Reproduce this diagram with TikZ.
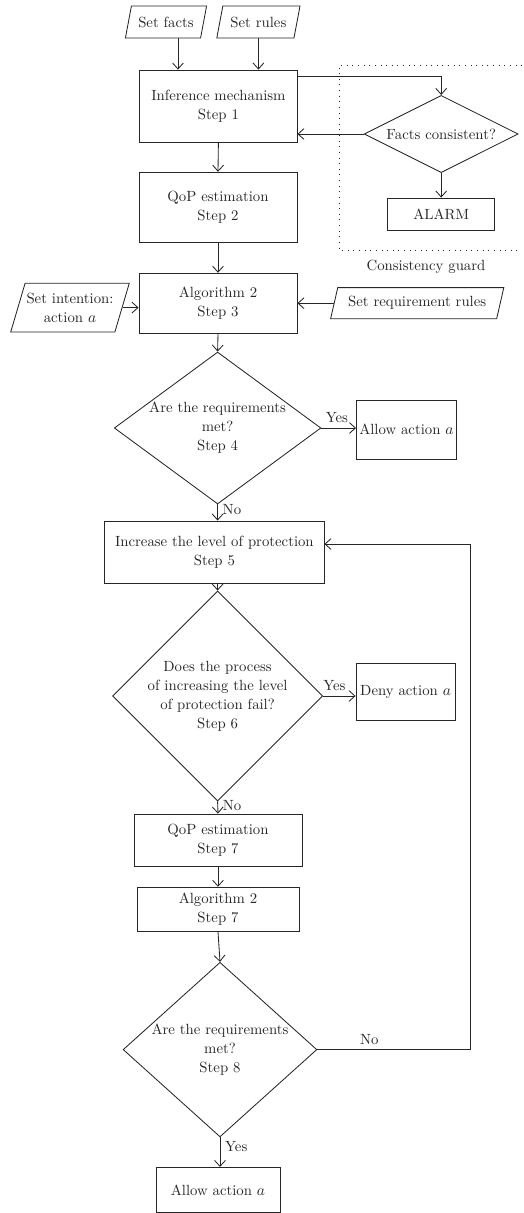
\documentclass[tikz,border=0pt]{standalone}
\usepackage{tikz}
\usetikzlibrary{shapes,arrows.meta,positioning,calc}

\begin{document}
\begin{tikzpicture}[
    color=black!85, line width=0.6pt,
    font=\fontsize{10.5}{13.5}\selectfont,
    process/.style={rectangle, draw, align=center, inner sep=2pt},
    decision/.style={diamond, draw, align=center, inner sep=0pt},
    inputbox/.style={trapezium, trapezium left angle=66, trapezium right angle=114, trapezium stretches body, draw, align=center, inner sep=1pt},
    arrow/.style={-{Straight Barb[length=1.5mm,width=2.7mm]}},
    guard/.style={dash pattern=on 0.6pt off 3.4pt, line width=0.7pt}
]
    \useasboundingbox (0,0) rectangle (13.1,-30.325);

    % Inputs
    \node[inputbox, minimum width=2.03cm, minimum height=0.8cm] (facts) at (4.15,-0.55) {Set facts};
    \node[inputbox, minimum width=2.08cm, minimum height=0.8cm] (rules) at (6.46,-0.55) {Set rules};

    % Steps 1-3
    \node[process, minimum width=3.93cm, minimum height=1.8cm] (infer) at (5.46,-2.65) {Inference mechanism\\Step 1};
    \node[process, minimum width=3.95cm, minimum height=1.75cm] (qop2) at (5.45,-5.18) {QoP estimation\\Step 2};
    \node[process, minimum width=3.95cm, minimum height=1.5cm] (alg3) at (5.45,-7.58) {Algorithm 2\\Step 3};
    \node[inputbox, minimum width=2.9cm, minimum height=1.22cm] (intent) at (1.75,-7.69) {Set intention:\\action $a$};
    \node[inputbox, minimum width=4.33cm, minimum height=0.78cm] (reqrules) at (10.43,-7.58) {Set requirement rules};

    % Consistency guard
    \node[decision, shape aspect=2, minimum width=3.85cm, minimum height=1.93cm] (fc) at (11.03,-3.35) {Facts consistent?};
    \node[process, minimum width=2.68cm, minimum height=0.8cm] (alarm) at (11.03,-5.35) {ALARM};
    \draw[guard] (13.05,-1.625) -- (8.475,-1.625) -- (8.475,-6.25) -- (13.05,-6.25);
    \node (guardlabel) at (10.65,-6.68) {Consistency guard};

    % Step 4
    \node[decision, shape aspect=1.36, minimum width=4.95cm, minimum height=3.65cm] (d4) at (5.44,-10.7) {Are the requirements\\met?\\Step 4};
    \node[process, minimum width=2.48cm, minimum height=1.48cm] (allow1) at (10.16,-10.74) {Allow action $a$};

    % Steps 5-6
    \node[process, minimum width=5.48cm, minimum height=1.55cm] (box5) at (5.36,-13.8) {Increase the level of protection\\Step 5};
    \node[decision, shape aspect=1, minimum width=4.88cm, minimum height=4.8cm] (d6) at (5.44,-17.4) {Does the process\\of increasing the level\\of protection fail?\\Step 6};
    \node[process, minimum width=2.48cm, minimum height=1.43cm] (deny) at (10.14,-17.29) {Deny action $a$};

    % Steps 7-8
    \node[process, minimum width=4.2cm, minimum height=1.3cm] (qop7) at (5.45,-21.0) {QoP estimation\\Step 7};
    \node[process, minimum width=4.05cm, minimum height=1.1cm] (alg7) at (5.45,-22.73) {Algorithm 2\\Step 7};
    \node[decision, shape aspect=1.11, minimum width=4.65cm, minimum height=4.18cm] (d8) at (5.5,-26.24) {Are the requirements\\met?\\Step 8};
    \node[process, minimum width=3.1cm, minimum height=1.13cm] (allow2) at (5.45,-29.75) {Allow action $a$};
    \coordinate (back) at (11.75,-13.6);

    % Arrows
    \draw[arrow] ([xshift=0.3cm]facts.south) -- ([xshift=0.3cm]facts.south |- infer.north);
    \draw[arrow] (rules.south) -- (rules.south |- infer.north);
    \draw[arrow] ([yshift=-0.18cm]infer.north east) -| (fc.north);
    \draw[arrow] (fc.west) -- (fc.west -| infer.east);
    \draw[arrow] (fc.south) -- (alarm.north);
    \draw[arrow] (infer.south) -- (qop2.north);
    \draw[arrow] (qop2.south) -- (alg3.north);
    \draw[arrow] (intent.east) -- (intent.east -| alg3.west);
    \draw[arrow] (reqrules.west) -- (reqrules.west -| alg3.east);
    \draw[arrow] (alg3.south) -- (d4.north);
    \draw[arrow] (d4.east) -- node[above, pos=0.45] {Yes} (d4.east -| allow1.west);
    \draw[arrow] (d4.south) -- node[right, pos=0.3] {No} (d4.south |- box5.north);
    \draw[arrow] (d4.south |- box5.south) -- (d6.north);
    \draw[arrow] (d6.east) -- node[above, pos=0.35] {Yes} (d6.east -| deny.west);
    \draw[arrow] (d6.south) -- node[right, pos=0.3] {No} (qop7.north);
    \draw[arrow] (qop7.south) -- (alg7.north);
    \draw[arrow] (alg7.south) -- (d8.north);
    \draw[arrow] (d8.east) -- node[above, pos=0.34] {No} (d8.east -| back) -- (back) -- (box5.east |- back);
    \draw[arrow] (d8.south) -- node[right, pos=0.3] {Yes} (d8.south |- allow2.north);
\end{tikzpicture}
\end{document}
